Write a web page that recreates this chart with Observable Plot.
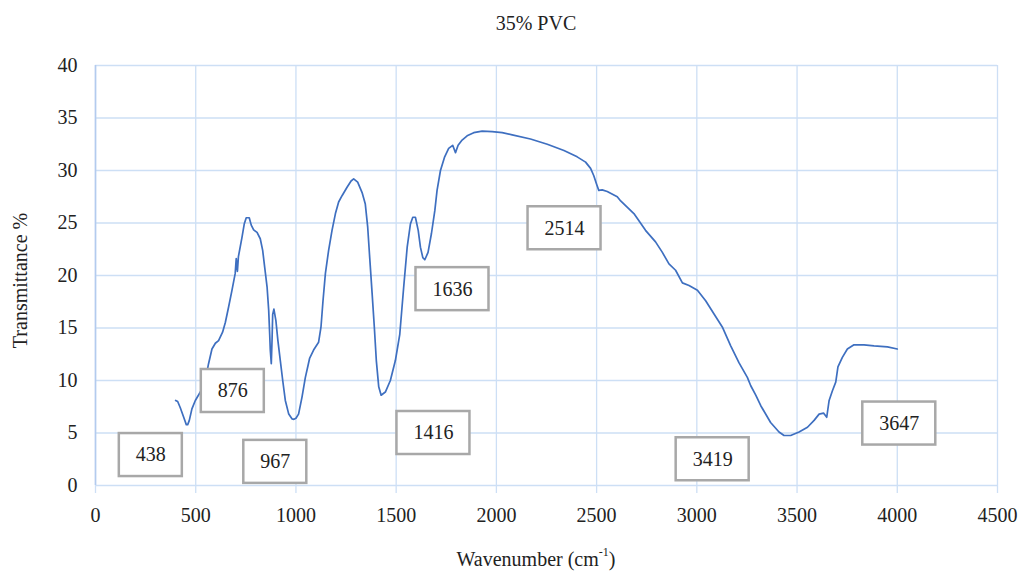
<!DOCTYPE html>
<html>
<head>
<meta charset="utf-8">
<script src="https://cdn.jsdelivr.net/npm/d3@7"></script>
<script src="https://cdn.jsdelivr.net/npm/@observablehq/plot@0.6"></script>
<style>
  html, body { margin: 0; padding: 0; background: #fff; }
  body { width: 1022px; height: 572px; position: relative; overflow: hidden;
         font-family: "Liberation Serif", "Times New Roman", serif; color: #222; }
  #title { position: absolute; left: 50px; top: 0; width: 972px; height: 44px;
           line-height: 46px; text-align: center; font-size: 20px; }
  #chart { position: absolute; left: 0; top: 44px; }
  #xlabel { position: absolute; left: 50px; top: 535px; width: 972px;
            text-align: center; font-size: 20px; line-height: 20px; padding-top: 14px; }
  #xlabel sup { font-size: 12px; line-height: 0; position: relative; top: -2px; }
</style>
</head>
<body>
<div id="title">35% PVC</div>
<div id="chart"></div>
<div id="xlabel">Wavenumber (cm<sup>-1</sup>)</div>
<script>
// FTIR spectrum of the 35% PVC sample: wavenumber (cm-1) and transmittance (%)
const wavenumber = [
  400, 410, 423, 440, 453, 460, 468, 481, 498, 523, 548, 564, 581, 598, 614, 634, 648, 664, 681, 697,
  702, 708, 713, 731, 742, 752, 767, 777, 789, 806, 822, 834, 844, 856, 864, 869, 872, 877, 881, 884,
  890, 900, 910, 922, 934, 947, 964, 980, 990, 1000, 1013, 1030, 1047, 1060, 1068, 1088, 1113, 1125, 1135, 1147,
  1163, 1180, 1197, 1213, 1230, 1255, 1275, 1288, 1308, 1330, 1346, 1358, 1368, 1380, 1391, 1401, 1413, 1425, 1446, 1471,
  1496, 1518, 1538, 1555, 1571, 1583, 1596, 1610, 1621, 1633, 1643, 1659, 1676, 1693, 1704, 1721, 1742, 1762, 1782, 1796,
  1809, 1829, 1854, 1887, 1929, 1979, 2029, 2079, 2170, 2254, 2337, 2403, 2445, 2470, 2486, 2500, 2511, 2528, 2553, 2603,
  2620, 2686, 2744, 2794, 2828, 2861, 2894, 2928, 2961, 3003, 3044, 3085, 3127, 3169, 3210, 3252, 3269, 3294, 3319, 3368,
  3410, 3435, 3468, 3510, 3552, 3585, 3610, 3632, 3648, 3660, 3676, 3693, 3704, 3726, 3751, 3784, 3834, 3884, 3951, 4000
];
const transmittance = [
  8.1, 8.0, 7.4, 6.5, 5.8, 5.8, 6.2, 7.3, 8.1, 8.9, 10.0, 11.6, 13.0, 13.55, 13.8, 14.6, 15.55, 17.0, 18.6, 20.2,
  21.6, 20.4, 21.8, 23.65, 24.9, 25.5, 25.5, 24.8, 24.35, 24.1, 23.5, 22.4, 20.8, 18.9, 16.7, 14.4, 12.9, 11.6, 14.0, 16.3,
  16.8, 15.7, 13.8, 11.9, 10.0, 8.1, 6.8, 6.35, 6.3, 6.4, 6.8, 8.4, 10.3, 11.4, 12.1, 12.9, 13.65, 15.1, 17.6, 20.2,
  22.4, 24.3, 25.9, 27.0, 27.6, 28.4, 29.0, 29.2, 28.9, 27.9, 26.8, 24.6, 21.7, 18.3, 15.1, 11.9, 9.4, 8.6, 8.9, 10.0,
  11.9, 14.4, 19.0, 22.7, 24.9, 25.55, 25.55, 24.3, 22.7, 21.7, 21.5, 22.2, 24.0, 26.2, 28.1, 30.0, 31.3, 32.1, 32.4, 31.7,
  32.4, 32.9, 33.3, 33.6, 33.75, 33.7, 33.6, 33.4, 33.0, 32.5, 31.9, 31.3, 30.8, 30.2, 29.5, 28.7, 28.1, 28.16, 28.0, 27.5,
  27.1, 25.9, 24.3, 23.2, 22.2, 21.1, 20.5, 19.3, 19.05, 18.6, 17.6, 16.35, 15.1, 13.3, 11.7, 10.3, 9.5, 8.6, 7.6, 6.0,
  5.1, 4.76, 4.76, 5.1, 5.55, 6.2, 6.8, 6.9, 6.5, 8.1, 9.0, 9.85, 11.3, 12.2, 13.0, 13.4, 13.4, 13.3, 13.2, 13.0
];

// Peak annotations: label text and where each label box sits (wavenumber, transmittance)
const peakLabels = ["438", "876", "967", "1416", "1636", "2514", "3419", "3647"];
const peakLabelX = [276, 685, 897, 1686, 1781, 2340, 3079, 4010];
const peakLabelY = [2.9, 9.0, 2.25, 5.0, 18.7, 24.5, 2.5, 5.9];

// Axis ticks
const xTicks = [0, 500, 1000, 1500, 2000, 2500, 3000, 3500, 4000, 4500];
const yTicks = [0, 5, 10, 15, 20, 25, 30, 35, 40];

const spectrum = wavenumber.map((w, i) => ({w, t: transmittance[i]}));
const peaks = peakLabels.map((label, i) => ({label, x: peakLabelX[i], y: peakLabelY[i]}));

const gridColor = "#cddff5";
const serif = "'Liberation Serif', 'Times New Roman', serif";

const plot = Plot.plot({
  width: 1022,
  height: 491,
  marginTop: 21,
  marginBottom: 50,
  marginLeft: 95,
  marginRight: 25,
  style: {fontFamily: serif, fontSize: "20px", color: "#222", background: "#fff"},
  x: {domain: [0, 4500]},
  y: {domain: [0, 40]},
  marks: [
    Plot.ruleY(yTicks, {stroke: gridColor, strokeWidth: 1.3}),
    Plot.ruleX(xTicks, {y1: 0, y2: 40, stroke: gridColor, strokeWidth: 1.3}),
    Plot.ruleX([0], {y1: 0, y2: 40, stroke: "#b3cbee", strokeWidth: 1.6}),
    Plot.axisX({ticks: xTicks, tickSize: 8, tickPadding: 14, stroke: gridColor, strokeWidth: 1.3,
                fill: "#222", fontSize: 20, label: null, tickFormat: d => String(d)}),
    Plot.axisY({ticks: yTicks, tickSize: 0, tickPadding: 18, fill: "#222", fontSize: 20,
                label: null, tickFormat: d => String(d)}),
    Plot.line(spectrum, {x: "w", y: "t", stroke: "#3e6fc0", strokeWidth: 1.7,
                         strokeLinejoin: "round", curve: "linear"}),
    Plot.text(peaks, {x: "x", y: "y", text: "label", fontSize: 20, fill: "#222"}),
    Plot.text(["Transmittance %"], {frameAnchor: "left", textAnchor: "middle", dx: -75, dy: 5,
                                    rotate: -90, fontSize: 20, fill: "#222", text: d => d})
  ]
});

document.getElementById("chart").appendChild(plot);

// Framed boxes behind the peak labels
const xs = plot.scale("x"), ys = plot.scale("y");
const labelGroup = Array.from(plot.querySelectorAll("g")).find(g => {
  const texts = Array.from(g.children).filter(n => n.tagName === "text");
  return texts.length === peakLabels.length &&
         texts.every((t, i) => t.textContent === peakLabels[i]);
});
if (labelGroup) {
  const boxGroup = document.createElementNS("http://www.w3.org/2000/svg", "g");
  labelGroup.parentNode.insertBefore(boxGroup, labelGroup);
  Array.from(labelGroup.children).forEach((node, i) => {
    const bb = node.getBBox();
    const w = bb.width + 33, h = 43;
    const cx = xs.apply(peaks[i].x), cy = ys.apply(peaks[i].y);
    const r = document.createElementNS("http://www.w3.org/2000/svg", "rect");
    r.setAttribute("x", cx - w / 2);
    r.setAttribute("y", cy - h / 2);
    r.setAttribute("width", w);
    r.setAttribute("height", h);
    r.setAttribute("fill", "#fff");
    r.setAttribute("stroke", "#a8a8a8");
    r.setAttribute("stroke-width", 2.5);
    boxGroup.appendChild(r);
  });
}
</script>
</body>
</html>
